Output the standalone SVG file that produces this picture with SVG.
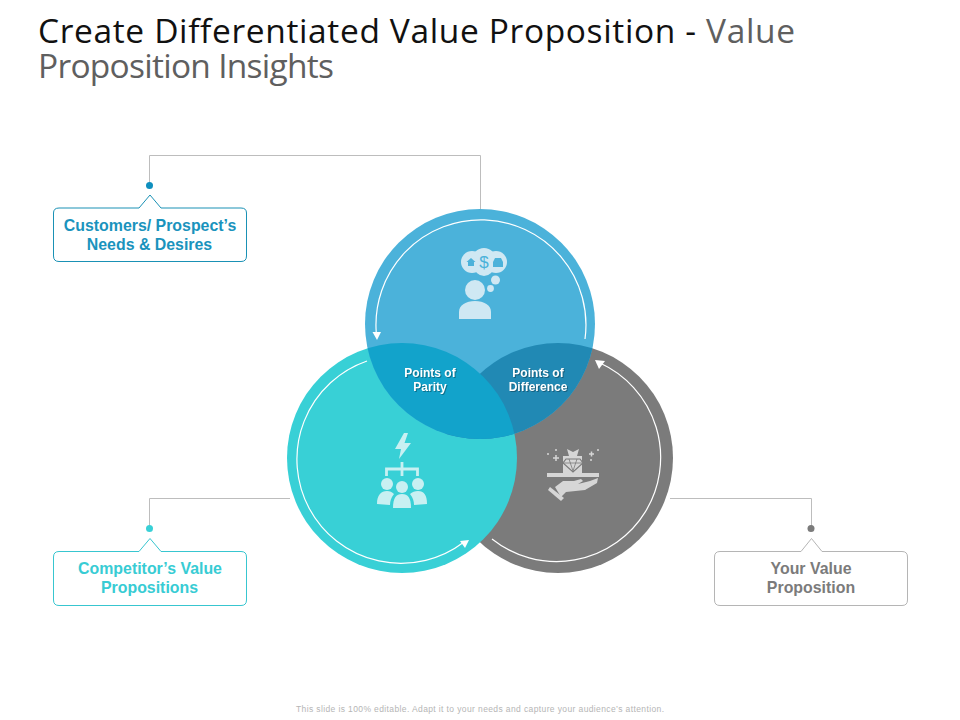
<svg xmlns="http://www.w3.org/2000/svg" width="960" height="720" viewBox="0 0 960 720">
<style>
text{font-family:"Liberation Sans",Arial,sans-serif}
.t{font-family:"Open Sans","Liberation Sans",sans-serif;font-size:33.500px;font-variant-ligatures:none}
.lb{font-size:15.900px;font-weight:bold;text-anchor:middle}
.in{font-size:12px;font-weight:bold;fill:#fff;text-anchor:middle;filter:drop-shadow(1px 1px 0.500px rgba(0,0,0,.3))}
.ln{fill:none;stroke:#bdbdbd;stroke-width:1}
.arc{fill:none;stroke:#fff;stroke-width:1.200}
.box{fill:#fff;stroke-width:1}
</style>
<defs>
<clipPath id="cTop"><circle cx="480" cy="324" r="115"/></clipPath>
<clipPath id="cLeft"><circle cx="402" cy="458" r="115"/></clipPath>
<clipPath id="cRight"><circle cx="558" cy="458" r="115"/></clipPath>
</defs>
<rect width="960" height="720" fill="#fff"/>
<text class="t" x="38" y="43" fill="#111" textLength="757" lengthAdjust="spacing" xml:space="preserve">Create Differentiated Value Proposition - <tspan fill="#5f5f5f">Value</tspan></text>
<text class="t" x="38" y="78" fill="#5f5f5f" textLength="296" lengthAdjust="spacing">Proposition Insights</text>
<g id="connectors">
<path class="ln" d="M480.500 210V155.500H149.500V185"/>
<path class="ln" d="M290 498.500H149.500V528"/>
<path class="ln" d="M670 498.500H811.500V528"/>
</g>
<g id="circle-right"><circle cx="558" cy="458" r="115" fill="#7b7b7b"/>
<path class="arc" d="M492 539A104 104 0 1 0 600 363"/><path d="M595 360L605 361L599 369Z" fill="#fff"/></g>
<g id="circle-left"><circle cx="402" cy="458" r="115" fill="#38d0d6"/>
<path class="arc" d="M367 361A104 104 0 1 0 464 542"/><path d="M469 540L460 541L465 548Z" fill="#fff"/></g>
<g id="circle-top"><circle cx="480" cy="324" r="115" fill="#4bb2da"/>
<path class="arc" d="M585 339A105 105 0 1 0 376.200 332"/><path d="M372.500 332H381L377 340Z" fill="#fff"/></g>
<g id="overlap-difference"><g clip-path="url(#cRight)"><circle cx="480" cy="324" r="115" fill="#2189b4"/></g>
<text class="in" x="538" y="377">Points of</text><text class="in" x="538" y="391">Difference</text></g>
<g id="overlap-parity"><circle cx="480" cy="324" r="115" fill="#12a3cb" clip-path="url(#cLeft)"/><text class="in" x="430" y="377">Points of</text><text class="in" x="430" y="391">Parity</text></g>
<g id="icon-person" fill="#cfe8f3">
<circle cx="472" cy="262" r="11"/><circle cx="484" cy="260" r="12"/><circle cx="496" cy="262" r="11"/><circle cx="484" cy="266" r="10"/>
<circle cx="495.500" cy="280" r="4.500"/><circle cx="490.500" cy="288.500" r="3.400"/><circle cx="475" cy="290" r="10"/>
<path d="M459 319V312C459 305 466 301 475 301C484 301 491 305 491 312V319Z"/>
<text x="484" y="268" font-size="17" text-anchor="middle" fill="#4bb2da">$</text>
<path d="M466.500 262L471 258L475.500 262H474V266H468V262Z M493 267V262L495 258H501L503 262V267Z" fill="#4bb2da"/>
</g>
<g id="icon-team" fill="#c8f0f2">
<path d="M404 433L395 449H401L399 459L411 443H404.500L408 433Z"/>
<path d="M386.500 476V469H417.500V476M402 462V476" fill="none" stroke="#c8f0f2" stroke-width="2.800"/>
<circle cx="387" cy="484" r="6"/><circle cx="402" cy="487" r="6"/><circle cx="418" cy="484" r="6"/>
<path d="M377 504C377 495 381 491 387 491C390 491 392 492 394 494C391 498 390 501 390 505Z M414 505C414 501 413 498 410 494C412 492 415 491 418 491C424 491 427 495 427 504Z"/>
<path d="M393 508C393 498 396 494 402 494C408 494 411 498 411 508Z"/>
</g>
<g id="icon-hand" fill="#d6d6d6">
<path d="M563 456H582V473H563Z"/><path d="M567 449L573 452L579 449L577 456H569Z"/>
<path d="M547 473H599V477H547Z"/>
<path d="M566 459H580L583 463L573 472L563 463Z" stroke="#7b7b7b" stroke-width="1.200"/>
<path d="M564 463H582M569 459L573 471L577 459" fill="none" stroke="#7b7b7b" stroke-width="0.800"/>
<path d="M555 487L563 481H574L581 479L583 481L578 484L590 481L598 478L597 483L585 490L566 492L561 497Z"/>
<path d="M550 487L564 498L561 501L548 490Z"/>
<path d="M553 458H559M556 455V461M589 454H594M591.500 451.500V456.500" stroke="#d6d6d6" stroke-width="1.500" fill="none"/>
<circle cx="548" cy="454" r="1"/><circle cx="556" cy="450" r="1"/><circle cx="598" cy="450" r="1"/><circle cx="591" cy="460" r="1"/>
</g>
<g id="node-customers">
<circle cx="149.500" cy="185.500" r="3.500" fill="#0f8fbe"/>
<path class="box" stroke="#1a91b5" d="M59 208H139L150 195L161 208H241Q246.500 208 246.500 213V256Q246.500 261.500 241 261.500H59Q53.500 261.500 53.500 256V213Q53.500 208 59 208Z"/>
<text class="lb" fill="#1a93bd" x="150" y="231">Customers/ Prospect’s</text><text class="lb" fill="#1a93bd" x="149.500" y="250">Needs &amp; Desires</text>
</g>
<g id="node-competitor">
<circle cx="149.500" cy="528.500" r="3.500" fill="#38d0d6"/>
<path class="box" stroke="#38c6d0" d="M59 551.500H139L150 538.500L161 551.500H241Q246.500 551.500 246.500 557V600Q246.500 605.500 241 605.500H59Q53.500 605.500 53.500 600V557Q53.500 551.500 59 551.500Z"/>
<text class="lb" fill="#38ccd4" x="150" y="574">Competitor’s Value</text><text class="lb" fill="#38ccd4" x="149.500" y="593">Propositions</text>
</g>
<g id="node-your-value">
<circle cx="811" cy="528.500" r="3.500" fill="#7b7b7b"/>
<path class="box" stroke="#b5b5b5" d="M720 551.500H801L811.500 538.500L822 551.500H902Q907.500 551.500 907.500 557V600Q907.500 605.500 902 605.500H720Q714.500 605.500 714.500 600V557Q714.500 551.500 720 551.500Z"/>
<text class="lb" fill="#7b7b7b" x="811" y="574">Your Value</text><text class="lb" fill="#7b7b7b" x="811" y="593">Proposition</text>
</g>
<text x="480" y="712" font-size="8.500" fill="#b5b5b5" text-anchor="middle" textLength="368">This slide is 100% editable. Adapt it to your needs and capture your audience’s attention.</text>
</svg>
